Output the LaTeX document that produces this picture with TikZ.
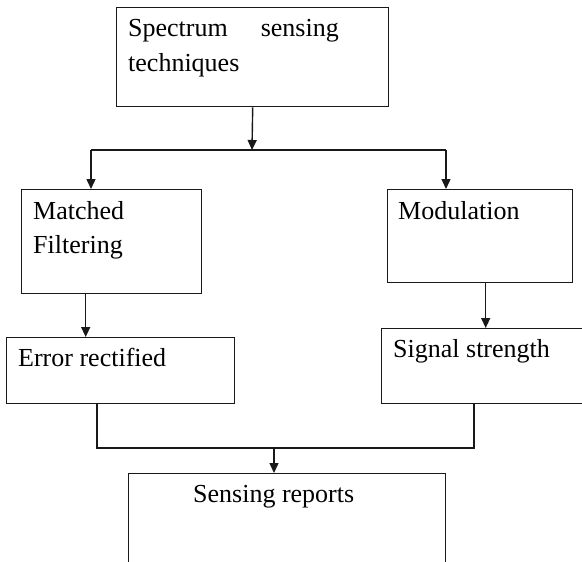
\documentclass[tikz,border=0pt]{standalone}
\usepackage{fontspec}
\setmainfont{Liberation Serif}
\usetikzlibrary{arrows.meta,calc}
\begin{document}
\begin{tikzpicture}[x=1pt,y=1pt,
  box/.style={draw=black!90,line width=1.4pt,anchor=north west,inner sep=0pt},
  lbl/.style={anchor=base west,inner sep=0pt,font=\fontsize{26}{34}\selectfont},
  arr/.style={draw=black!90,line width=1.4pt,-{Triangle[length=10pt,width=9pt]}},
  ln/.style={draw=black!90,line width=1.4pt}]
\useasboundingbox (0,0) rectangle (582,-562);
\clip (0,0) rectangle (582,-562);
\fill[white] (0,0) rectangle (582,-562);
% boxes
\node[box,minimum width=272pt,minimum height=99pt] (top) at (116,-7) {};
\node[box,minimum width=180pt,minimum height=104pt] (mf) at (21,-189) {};
\node[box,minimum width=185pt,minimum height=93pt] (mod) at (387,-189) {};
\node[box,minimum width=228pt,minimum height=66pt] (err) at (6,-337) {};
\node[box,minimum width=240pt,minimum height=75pt] (sig) at (381,-328) {};
\node[box,minimum width=317pt,minimum height=110pt] (rep) at (128,-473) {};
% labels
\node[lbl] (t1) at (128,-37) {Spectrum};
\node[lbl,anchor=base east] (t2) at (339,-37) {sensing};
\node[lbl] (t3) at (128,-71) {techniques};
\node[lbl] (m1) at (33,-219) {Matched};
\node[lbl] (m2) at (33,-253) {Filtering};
\node[lbl] (mo) at (398,-219) {Modulation};
\node[lbl] (er) at (18,-366) {Error rectified};
\node[lbl] (si) at (393,-357) {Signal strength};
\node[lbl] (re) at (193,-502) {Sensing reports};
% connectors
\coordinate (sp) at (252,-150);
\coordinate (L) at (91,-150);
\coordinate (R) at (446,-150);
\draw[arr] (top.south) -- (sp);
\draw[ln] (L) -- (R);
\draw[arr] (L) -- (L |- mf.north);
\draw[arr] (R) -- (R |- mod.north);
\draw[arr] ([xshift=-26pt]mf.south) -- ([xshift=-26pt]mf.south |- err.north);
\draw[arr] ([xshift=5.5pt]mod.south) -- ([xshift=5.5pt]mod.south |- sig.north);
\coordinate (BL) at (97,-448);
\coordinate (BR) at (474,-448);
\coordinate (BM) at (274,-448);
\draw[ln] (BL |- err.south) -- (BL) -- (BR) -- (BR |- sig.south);
\draw[arr] (BM) -- (BM |- rep.north);
\end{tikzpicture}
\end{document}
